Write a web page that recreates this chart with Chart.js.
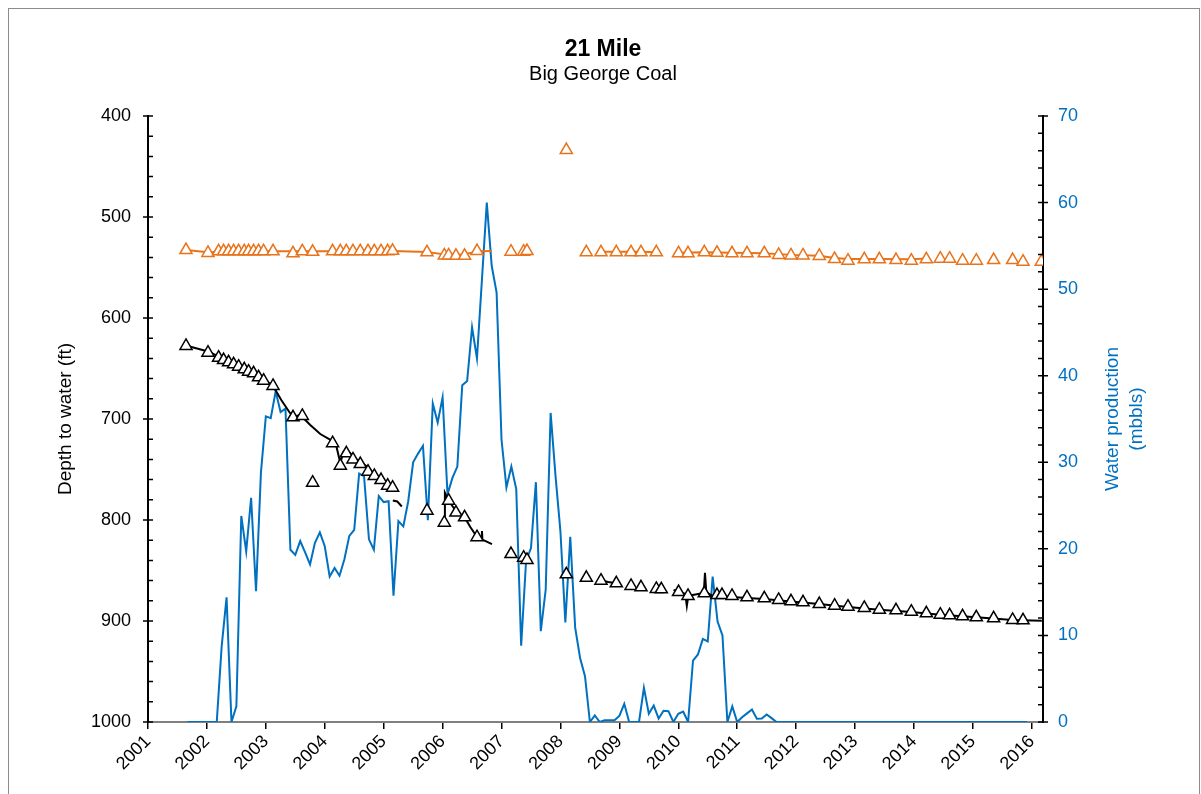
<!DOCTYPE html>
<html>
<head>
<meta charset="utf-8">
<title>21 Mile - Big George Coal</title>
<script src="https://cdn.jsdelivr.net/npm/chart.js@4.4.1/dist/chart.umd.min.js"></script>
<style>
  html, body { margin: 0; padding: 0; background: #fff; }
  #wrap { position: relative; width: 1201px; height: 794px; }
</style>
</head>
<body>
<div id="wrap"><canvas id="depthChart" width="1201" height="794"></canvas></div>
<script>
// x axis year ticks
const yearTicks = [2001, 2002, 2003, 2004, 2005, 2006, 2007, 2008, 2009, 2010, 2011, 2012, 2013, 2014, 2015, 2016];

// manual depth-to-water measurements (decimal year)
const measDates = [
  2001.645, 2002.018, 2002.198, 2002.283, 2002.368, 2002.453, 2002.538, 2002.634, 2002.707, 2002.792,
  2002.877, 2002.962, 2003.122, 2003.461, 2003.619, 2003.794, 2004.133, 2004.264, 2004.366, 2004.479,
  2004.603, 2004.734, 2004.841, 2004.955, 2005.067, 2005.151, 2005.735, 2006.029, 2006.102, 2006.227,
  2006.373, 2006.584, 2007.161, 2007.375, 2007.432, 2008.100, 2008.439, 2008.688, 2008.948, 2009.198,
  2009.367, 2009.627, 2009.712, 2010.005, 2010.165, 2010.442, 2010.657, 2010.742, 2010.912, 2011.166,
  2011.460, 2011.703, 2011.913, 2012.117, 2012.393, 2012.653, 2012.880, 2013.157, 2013.412, 2013.695,
  2013.955, 2014.210, 2014.447, 2014.605, 2014.825, 2015.058, 2015.352, 2015.674, 2015.851, 2016.161
];
// black well (deeper coal)
const depthBlack = [
  627.7, 634.4, 639.3, 641.6, 643.9, 645.8, 648.2, 650.8, 653.2, 654.8,
  658.7, 662.1, 667.3, 698.3, 697, 763, 724, 746.2, 734, 740,
  744.6, 752.2, 756.4, 760.4, 766, 768, 790.8, 802.7, 780.9, 792.6,
  797.3, 817, 833.7, 837.3, 839.6, 853.8, 857.2, 860.1, 862.7, 865.3,
  866.6, 868.3, 868.6, 871.3, 875.2, 872.6, 874.3, 874.3, 875.2, 876.5,
  877.5, 879.2, 880.5, 881.5, 883.2, 884.9, 885.8, 887.1, 888.8, 889.4,
  890.8, 892.4, 893.8, 894.4, 895.4, 896.3, 897.3, 899, 899.3, null
];
// orange well (shallow)
const depthOrange = [
  532.7, 535.6, 534, 534, 534, 534, 534, 534, 534, 534,
  534, 534, 534, 536, 534, 534.5, 534, 534, 534, 534,
  534, 534, 534, 534, 534, 533.5, 535, 538, 538, 538.4,
  538.4, 533.7, 534.4, 534.4, 533.7, 433.7, 535, 535, 535, 535,
  535, 535, null, 536, 536, 535, 535.4, null, 536, 536,
  536, 537.6, 538, 538, 538.6, 541.6, 543.3, 541.9, 541.9, 542.6,
  543.3, 541.9, 541.3, 541.3, 543.3, 543.3, 542.6, 542.6, 544.3, 544.3
];

// continuous (transducer) records, null = gap
const blackTraceDates = [
  2001.645, 2002.018, 2002.198, 2002.453, 2002.707, 2002.962, 2003.122, 2003.262, 2003.398, 2003.466,
  2003.585, 2003.754, 2003.924, 2004.133, 2004.196, 2004.264, 2004.317, 2004.374, 2004.479, 2004.569,
  2004.734, 2004.841, 2004.955, 2005.067, 2005.151, 2005.153,
  2005.155, 2005.231, 2005.308, 2005.5,
  2006.034, 2006.039, 2006.102, 2006.227, 2006.300, 2006.373, 2006.470, 2006.584, 2006.660, 2006.668,
  2006.676, 2006.838, 2007.5,
  2008.688, 2008.812, 2008.948, 2009.5,
  2009.920, 2010.005, 2010.119, 2010.145, 2010.170, 2010.289, 2010.433, 2010.453, 2010.475, 2010.577,
  2010.742, 2010.912, 2011.166, 2011.460, 2011.913, 2012.393, 2012.880, 2013.412, 2013.955, 2014.447,
  2015.058, 2015.674, 2016.170
];
const blackTraceDepth = [
  627.2, 633.2, 638.1, 644.6, 651.5, 660.4, 667.3, 681.2, 693.1, 698,
  696, 706, 714.9, 721.8, 726.7, 743.6, 732.7, 730.7, 736.6, 741.6,
  747.5, 754.5, 759.4, 765.3, 768.3, null,
  780.7, 781.7, 786.6, null,
  804.7, 773, 780.9, 791.1, 794, 797.3, 806.9, 816.8, 818.8, 811,
  819.5, 823.8, null,
  859.9, 861.4, 862.7, null,
  869.3, 870.8, 873.3, 885.1, 875.2, 873.8, 872.3, 852.2, 871.3, 875.2,
  875.2, 876.2, 877.2, 878.2, 880.7, 883.2, 886.1, 888.8, 891.1, 893.8,
  896.3, 899, 899.7
];
const orangeTraceDates = [
  2001.645, 2002.018, 2002.5, 2003.0, 2003.5, 2004.0, 2004.5, 2005.151, 2005.735, 2006.029,
  2006.3, 2006.5, 2006.584, 2006.838, 2007.5,
  2008.688, 2009.0, 2009.367, 2009.627, 2009.8,
  2010.005, 2010.442, 2010.912, 2011.460, 2011.913, 2012.393, 2012.653, 2012.880, 2013.412, 2013.955,
  2014.210
];
const orangeTraceDepth = [
  532.7, 534.8, 534.2, 534, 534, 534, 533.8, 533.6, 534.6, 537,
  537.3, 535.5, 533.8, 533.7, null,
  534.5, 534.3, 534.3, 535, null,
  535.5, 535, 535.5, 536, 537.5, 538.3, 540.5, 541.5, 541.5, 541.8,
  541
];

// monthly water production (mbbls), first value = Sep 2001, last = Dec 2015
const waterFirstMonth = 2001 + 8 / 12;
const waterValues = [
  0, 0, 0, 0, 0, 0, 0, 8.7, 14.4, 0,
  1.8, 23.8, 19.7, 25.9, 15.1, 28.8, 35.3, 35.1, 38.2, 35.8,
  36.2, 19.9, 19.3, 20.9, 19.6, 18.2, 20.7, 21.9, 20.3, 16.8,
  17.8, 16.9, 18.8, 21.5, 22.2, 28.7, 28.4, 21.1, 19.9, 26.1,
  25.4, 25.5, 14.6, 23.2, 22.6, 25.5, 30.0, 31.0, 31.9, 23.3,
  36.8, 34.6, 37.5, 26.3, 28.2, 29.5, 38.9, 39.4, 45.6, 42.0,
  51.0, 60.0, 52.7, 49.6, 32.6, 27.1, 29.5, 26.9, 8.8, 18.6,
  20.1, 27.7, 10.5, 15.3, 35.7, 28.4, 22.0, 11.5, 21.4, 10.9,
  7.4, 5.3, 0, 0.75, 0, 0.2, 0.2, 0.2, 0.7, 2.1,
  0, 0, 0, 3.95, 0.95, 1.9, 0.4, 1.3, 1.25, 0,
  0.95, 1.2, 0, 7.1, 7.8, 9.6, 9.3, 16.8, 11.6, 10.0,
  0, 1.8, 0, 0.55, 1.0, 1.45, 0.37, 0.4, 0.87, 0.45,
  0, 0, 0, 0, 0, 0, 0, 0, 0, 0,
  0, 0, 0, 0, 0, 0, 0, 0, 0, 0,
  0, 0, 0, 0, 0, 0, 0, 0, 0, 0,
  0, 0, 0, 0, 0, 0, 0, 0, 0, 0,
  0, 0, 0, 0, 0, 0, 0, 0, 0, 0,
  0, 0
];

const BLUE = '#0070C0';
const ORANGE = '#E8731A';
const FONT = '"Liberation Sans", Arial, sans-serif';

const toXY = (xs, ys) => xs.map((x, i) => ({ x: x, y: ys[i] }));
const waterPts = waterValues.map((v, i) => ({ x: waterFirstMonth + i / 12, y: v }));

// frame, minor ticks, titles
const decorPlugin = {
  id: 'decor',
  beforeDraw(chart) {
    const ctx = chart.ctx;
    ctx.save();
    ctx.fillStyle = '#fff';
    ctx.fillRect(0, 0, chart.width, chart.height);
    ctx.strokeStyle = '#8c8c8c';
    ctx.lineWidth = 1;
    ctx.strokeRect(8.5, 8.5, 1191, 800);
    ctx.restore();
  },
  afterDraw(chart) {
    const { ctx, chartArea: a, scales } = chart;
    const yl = scales.y, yr = scales.y1;
    ctx.save();
    ctx.strokeStyle = '#000';
    ctx.lineWidth = 1.5;
    ctx.beginPath();
    for (let v = 400; v <= 1000; v += 20) {
      const p = yl.getPixelForValue(v);
      const major = v % 100 === 0;
      ctx.moveTo(a.left - (major ? 5 : 0), p);
      ctx.lineTo(a.left + 5, p);
    }
    for (let v = 0; v <= 70; v += 2) {
      const p = yr.getPixelForValue(v);
      const major = v % 10 === 0;
      ctx.moveTo(a.right - 5, p);
      ctx.lineTo(a.right + (major ? 5 : 0), p);
    }
    ctx.stroke();

    ctx.textAlign = 'center';
    ctx.textBaseline = 'alphabetic';
    ctx.fillStyle = '#000';
    ctx.font = 'bold 23px ' + FONT;
    ctx.fillText('21 Mile', 603, 56);
    ctx.font = '20px ' + FONT;
    ctx.fillText('Big George Coal', 603, 80);

    ctx.font = '19px ' + FONT;
    ctx.textBaseline = 'middle';
    ctx.save();
    ctx.translate(66, 419);
    ctx.rotate(-Math.PI / 2);
    ctx.fillText('Depth to water (ft)', 0, 0);
    ctx.restore();

    ctx.fillStyle = BLUE;
    ctx.save();
    ctx.translate(1113, 419);
    ctx.rotate(-Math.PI / 2);
    ctx.fillText('Water production', 0, 0);
    ctx.restore();
    ctx.save();
    ctx.translate(1137, 419);
    ctx.rotate(-Math.PI / 2);
    ctx.fillText('(mbbls)', 0, 0);
    ctx.restore();
    ctx.restore();
  }
};

new Chart(document.getElementById('depthChart'), {
  type: 'line',
  data: {
    datasets: [
      {
        label: 'Depth to water (measured)',
        data: toXY(measDates, depthBlack),
        yAxisID: 'y',
        showLine: false,
        pointStyle: 'triangle',
        pointRadius: 7,
        borderColor: '#000',
        backgroundColor: '#fff',
        borderWidth: 1.5,
        order: 1
      },
      {
        label: 'Depth to water, shallow (measured)',
        data: toXY(measDates, depthOrange),
        yAxisID: 'y',
        showLine: false,
        pointStyle: 'triangle',
        pointRadius: 7,
        borderColor: ORANGE,
        backgroundColor: '#fff',
        borderWidth: 1.5,
        order: 2
      },
      {
        label: 'Depth to water (record)',
        data: toXY(blackTraceDates, blackTraceDepth),
        yAxisID: 'y',
        borderColor: '#000',
        borderWidth: 2,
        pointRadius: 0,
        spanGaps: false,
        order: 3
      },
      {
        label: 'Depth to water, shallow (record)',
        data: toXY(orangeTraceDates, orangeTraceDepth),
        yAxisID: 'y',
        borderColor: ORANGE,
        borderWidth: 2,
        pointRadius: 0,
        spanGaps: false,
        order: 4
      },
      {
        label: 'Water production',
        data: waterPts,
        yAxisID: 'y1',
        borderColor: BLUE,
        borderWidth: 2,
        pointRadius: 0,
        order: 5
      }
    ]
  },
  options: {
    responsive: false,
    animation: false,
    devicePixelRatio: 1,
    layout: { padding: { top: 116, left: 0, right: 0, bottom: 0 } },
    plugins: {
      legend: { display: false },
      tooltip: { enabled: false }
    },
    elements: { line: { tension: 0 } },
    scales: {
      x: {
        type: 'linear',
        min: 2001,
        max: 2016.19,
        afterBuildTicks: s => { s.ticks = yearTicks.map(v => ({ value: v })); },
        afterFit: s => { s.height = 72; },
        border: { display: true, color: '#808080', width: 2 },
        grid: { drawOnChartArea: false, drawTicks: true, tickLength: 7, color: '#000', lineWidth: 1.5 },
        ticks: {
          autoSkip: false,
          maxRotation: 45,
          minRotation: 45,
          padding: 2,
          color: '#000',
          font: { family: FONT, size: 18 },
          callback: v => String(v)
        }
      },
      y: {
        type: 'linear',
        position: 'left',
        reverse: true,
        min: 400,
        max: 1000,
        afterFit: s => { s.width = 148; },
        border: { display: true, color: '#000', width: 2 },
        grid: { display: false, drawTicks: false },
        ticks: { stepSize: 100, padding: 17, color: '#000', font: { family: FONT, size: 18 }, callback: v => String(v) }
      },
      y1: {
        type: 'linear',
        position: 'right',
        min: 0,
        max: 70,
        afterFit: s => { s.width = 158; },
        border: { display: true, color: '#000', width: 2 },
        grid: { display: false, drawTicks: false },
        ticks: { stepSize: 10, padding: 15, color: BLUE, font: { family: FONT, size: 18 }, callback: v => String(v) }
      }
    }
  },
  plugins: [decorPlugin]
});
</script>
</body>
</html>
